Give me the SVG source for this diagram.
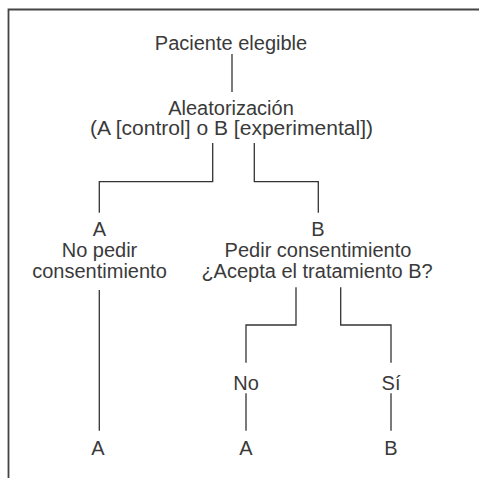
<svg xmlns="http://www.w3.org/2000/svg" width="479" height="478" viewBox="0 0 479 478">
<style>
text{font-family:"Liberation Sans",Arial,sans-serif;font-size:20px;fill:#3a3a3a;text-anchor:middle}
.c{fill:none;stroke:#333;stroke-width:1.3}
.f{fill:none;stroke:#444;stroke-width:1.8}
</style>
<rect width="479" height="478" fill="#fff"/>
<path class="f" d="M8.5 478V9.5H479"/>
<g id="paciente"><text x="231" y="49.5">Paciente elegible</text></g>
<g id="aleatorizacion"><text x="231" y="114.5">Aleatorización</text><text x="231.5" y="135" textLength="283" lengthAdjust="spacingAndGlyphs">(A [control] o B [experimental])</text></g>
<g id="rama-a"><text x="99.5" y="235.5">A</text><text x="99.5" y="257">No pedir</text><text x="99.5" y="278">consentimiento</text></g>
<g id="rama-b"><text x="318" y="235.5">B</text><text x="318" y="257">Pedir consentimiento</text><text x="317" y="278">¿Acepta el tratamiento B?</text></g>
<g id="no"><text x="246" y="389.5">No</text></g>
<g id="si"><text x="391" y="389.5">Sí</text></g>
<g id="final-a1"><text x="98" y="454.5">A</text></g>
<g id="final-a2"><text x="246" y="454.5">A</text></g>
<g id="final-b"><text x="391" y="454.5">B</text></g>
<g id="connectors">
<path class="c" d="M232 54V92"/>
<path class="c" d="M212.7 143V181.7H99.3V212.7"/>
<path class="c" d="M254.3 143V181.7H318.3V212.7"/>
<path class="c" d="M99.3 290V430.7"/>
<path class="c" d="M296 287.3V325H246V362.7"/>
<path class="c" d="M340.7 287.3V325H391V362.7"/>
<path class="c" d="M246 393.3V430.7"/>
<path class="c" d="M391 393.3V430.7"/>
</g>
</svg>
